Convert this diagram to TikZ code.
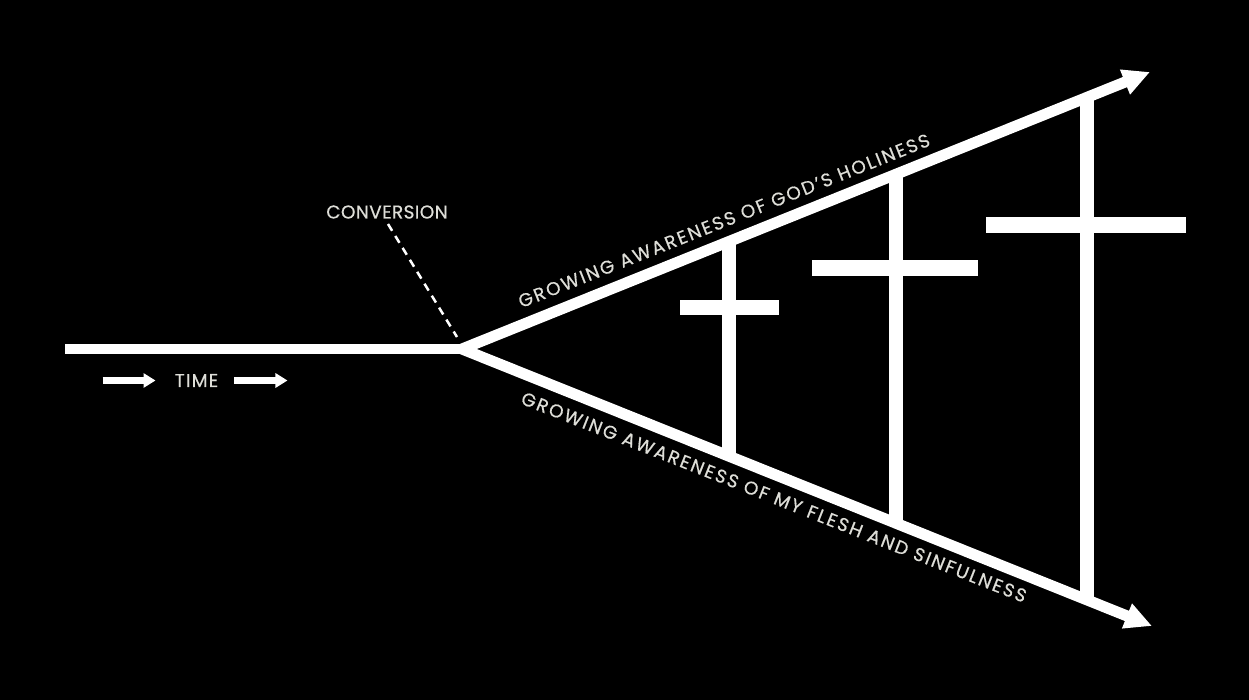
\documentclass[tikz,border=0pt]{standalone}
\usepackage{fontspec}
\setmainfont{Poppins}
\newfontfamily\tagfont{Poppins}[LetterSpace=6.5,FakeBold=0.5]
\newfontfamily\convfont{Poppins}[LetterSpace=2,FakeBold=0.5]
\newfontfamily\slopefont{Poppins}[LetterSpace=10.5,FakeBold=0.5]
\usetikzlibrary{arrows.meta}
\definecolor{chalk}{RGB}{222,222,216}
\tikzset{
  >={Triangle[length=27pt,width=25pt]},
  track/.style={draw=white,line width=10pt},
  branch/.style={draw=white,line width=11pt,->},
  bar/.style={fill=white},
  tag/.style={text=chalk,font=\tagfont\fontsize{18.5}{20}\selectfont,inner sep=0pt},
  slopetag/.style={tag,font=\slopefont\fontsize{18.5}{20}\selectfont},
  timearrow/.style={draw=white,line width=7pt,-{Triangle[length=12pt,width=14pt]}},
}

\begin{document}
\begin{tikzpicture}[x=1pt,y=-1pt]
  \fill[black] (0,0) rectangle (1249,700);
  % time line and the two branches
  \coordinate (start) at (65,349);
  \coordinate (conv) at (462,349);
  \coordinate (holy) at (1150,72);
  \coordinate (flesh) at (1152,626);
  \draw[track] (start) -- (conv);
  \draw[branch] (conv) -- (holy);
  \draw[branch] (conv) -- (flesh);
  % crosses
  \fill[bar] (722,241) rectangle (736,456);
  \fill[bar] (680,300) rectangle (779,315);
  \fill[bar] (889,174) rectangle (903,523);
  \fill[bar] (812,260) rectangle (978,276);
  \fill[bar] (1080,97) rectangle (1094,599);
  \fill[bar] (986,217) rectangle (1186,233);
  % labels
  \node[tag,font=\convfont\fontsize{18.5}{20}\selectfont] (convlbl) at (387,212) {CONVERSION};
  \coordinate (dashtop) at (388,224);
  \coordinate (dashend) at (457,337);
  \draw[white,line width=2.5pt,dash pattern=on 8pt off 6pt] (dashtop) -- (dashend);
  \node[slopetag,rotate=21.7] (holylbl) at (724,220.7) {GROWING AWARENESS OF GOD’S HOLINESS};
  \node[slopetag,rotate=-21.6] (fleshlbl) at (774,497.1) {GROWING AWARENESS OF MY FLESH AND SINFULNESS};
  \node[tag] (time) at (196.5,380.5) {TIME};
  \draw[timearrow] ([xshift=-72pt]time.west) -- ([xshift=-19pt]time.west);
  \draw[timearrow] ([xshift=16pt]time.east) -- ([xshift=69pt]time.east);
\end{tikzpicture}
\end{document}
